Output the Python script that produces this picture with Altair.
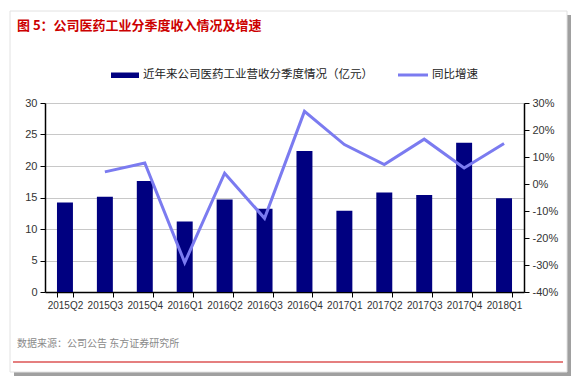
import altair as alt
import pandas as pd

quarters = ['2015Q2', '2015Q3', '2015Q4', '2016Q1', '2016Q2', '2016Q3',
            '2016Q4', '2017Q1', '2017Q2', '2017Q3', '2017Q4', '2018Q1']
revenue = [14.2, 15.1, 17.6, 11.2, 14.7, 13.2, 22.4, 12.9, 15.8, 15.4, 23.7, 14.9]
growth_pct = [None, 4.5, 7.8, -29.1, 4.0, -12.7, 26.9, 14.6, 7.2, 16.6, 5.9, 15.0]

title_text = "图 5：公司医药工业分季度收入情况及增速"
bar_label = "近年来公司医药工业营收分季度情况（亿元）"
line_label = "同比增速"
source_text = "数据来源：公司公告 东方证券研究所"

left_ticks = [0, 5, 10, 15, 20, 25, 30]
right_ticks = [-0.4, -0.3, -0.2, -0.1, 0.0, 0.1, 0.2, 0.3]

NAVY = "#000080"
LINE = "#7b7bf0"
RED = "#cc0000"

df = pd.DataFrame({
    "quarter": quarters,
    "revenue": revenue,
    "growth": [None if g is None else g / 100 for g in growth_pct],
})
one = pd.DataFrame({"a": [0]})

W, H = 479, 189
PAD = {"left": 37, "top": 95, "right": 48, "bottom": 86}

x_enc = alt.X("quarter:N", sort=quarters, title=None,
              scale=alt.Scale(paddingInner=0.6, paddingOuter=0.3),
              axis=alt.Axis(labelAngle=0, tickBand="extent", domainColor="#000",
                            domainWidth=1.5, tickColor="#000", tickSize=5,
                            labelFont="Liberation Sans", labelFontSize=10,
                            labelOverlap=False,
                            labelColor="#333", labelPadding=3))

bars = alt.Chart(df).mark_bar(color=NAVY).encode(
    x=x_enc,
    y=alt.Y("revenue:Q", title=None,
            scale=alt.Scale(domain=[0, 30], nice=False),
            axis=alt.Axis(values=left_ticks, orient="left", grid=True,
                          gridColor="#c8c8c8", domainColor="#000", domainWidth=1.5,
                          tickColor="#000", tickSize=5, labelFont="Liberation Sans",
                          labelFontSize=11, labelColor="#333", labelPadding=3)),
)

line = alt.Chart(df).mark_line(color=LINE, strokeWidth=3).encode(
    x=alt.X("quarter:N", sort=quarters),
    y=alt.Y("growth:Q", title=None,
            scale=alt.Scale(domain=[-0.4, 0.3], nice=False, zero=False),
            axis=alt.Axis(values=right_ticks, orient="right", grid=False,
                          labelExpr="round(datum.value*100) + '%'",
                          domainColor="#000", domainWidth=1.5, tickColor="#000",
                          tickSize=5, labelFont="Liberation Sans", labelFontSize=11,
                          labelColor="#333", labelPadding=3)),
)

# decorations (frame, title, legend, source)
shadow_r = alt.Chart(one).mark_rect(fill="#a0a0a0").encode(
    x=alt.value(522), x2=alt.value(526), y=alt.value(-88), y2=alt.value(273))
shadow_b = alt.Chart(one).mark_rect(fill="#a0a0a0").encode(
    x=alt.value(-31), x2=alt.value(526), y=alt.value(269), y2=alt.value(273))
box = alt.Chart(one).mark_rect(fill=None, filled=False, stroke="#e2e2e2", strokeWidth=1).encode(
    x=alt.value(-35), x2=alt.value(522), y=alt.value(-92), y2=alt.value(269))
redline = alt.Chart(one).mark_rule(color=RED, strokeWidth=1.2).encode(
    x=alt.value(-32), x2=alt.value(518), y=alt.value(259))
title = alt.Chart(one).mark_text(align="left", baseline="middle", font="Noto Sans CJK SC",
                                 fontSize=13, fontWeight="bold", color=RED).encode(
    x=alt.value(-28), y=alt.value(-77), text=alt.value(title_text))
leg_rect = alt.Chart(one).mark_rect(color=NAVY).encode(
    x=alt.value(66), x2=alt.value(94), y=alt.value(-30.5), y2=alt.value(-25))
leg_text1 = alt.Chart(one).mark_text(align="left", baseline="middle", font="Noto Sans CJK SC",
                                     fontSize=11.5, color="#222").encode(
    x=alt.value(98), y=alt.value(-28), text=alt.value(bar_label))
leg_line = alt.Chart(one).mark_rule(color=LINE, strokeWidth=3).encode(
    x=alt.value(353), x2=alt.value(383), y=alt.value(-28))
leg_text2 = alt.Chart(one).mark_text(align="left", baseline="middle", font="Noto Sans CJK SC",
                                     fontSize=11.5, color="#222").encode(
    x=alt.value(387), y=alt.value(-28), text=alt.value(line_label))
source = alt.Chart(one).mark_text(align="left", baseline="middle", font="Noto Sans CJK SC",
                                  fontSize=10, color="#8a8a8a").encode(
    x=alt.value(-28), y=alt.value(241), text=alt.value(source_text))

chart = alt.layer(
    shadow_r, shadow_b, box, redline, title, leg_rect, leg_text1, leg_line, leg_text2, source,
    bars, line,
).resolve_scale(y="independent").properties(
    width=W, height=H,
    autosize=alt.AutoSizeParams(type="none"),
    padding=PAD,
).configure_view(stroke=None).configure(background="white")

chart.save("out.html", embed_options={"renderer": "svg", "actions": False})
